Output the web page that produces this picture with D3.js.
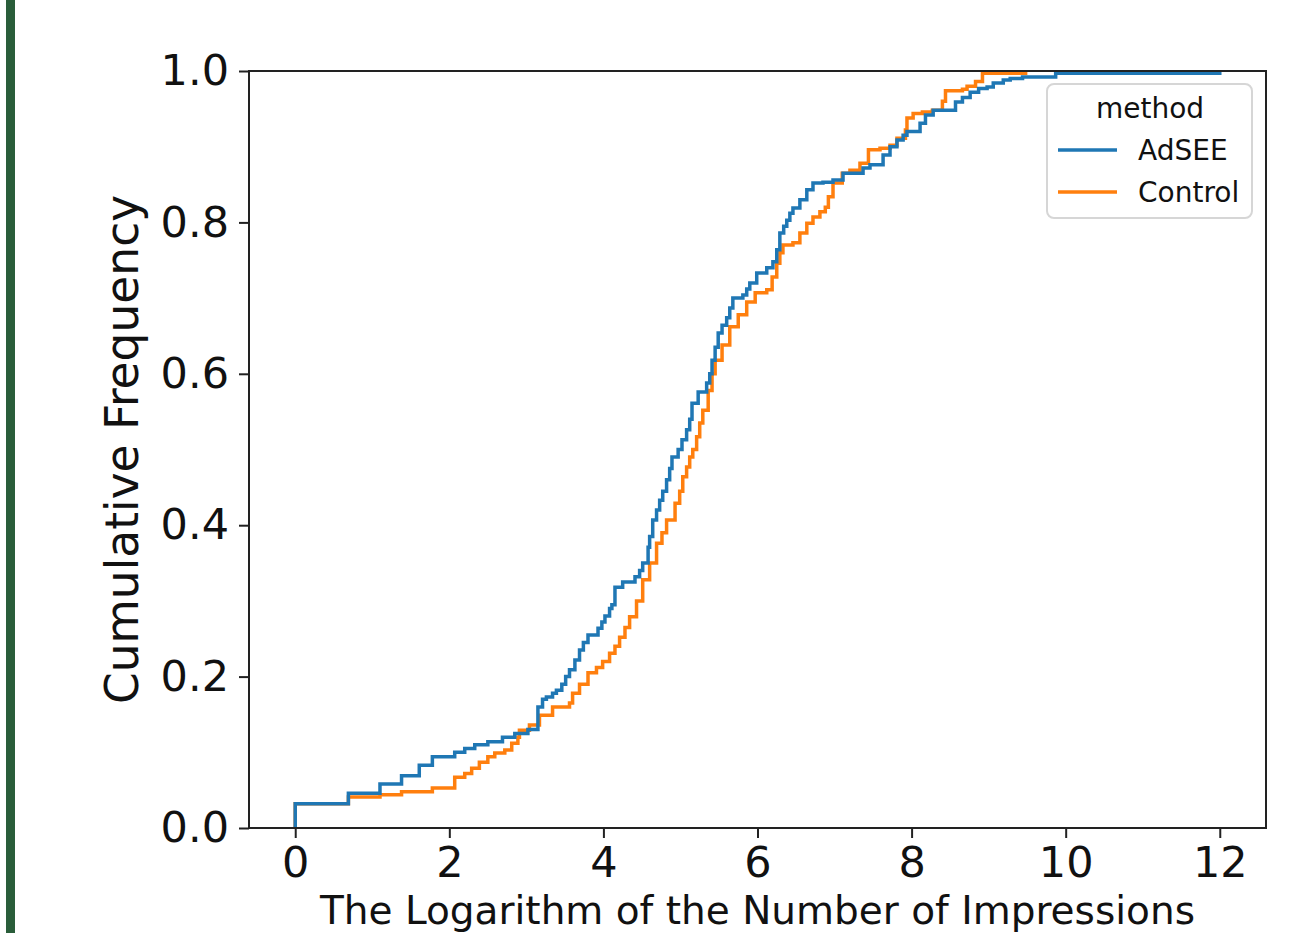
<!DOCTYPE html>
<html>
<head>
<meta charset="utf-8">
<script src="https://cdn.jsdelivr.net/npm/d3@7"></script>
<style>
  html, body { margin: 0; padding: 0; background: #fff; }
  svg { display: block; }
  text { font-family: "DejaVu Sans", sans-serif; fill: #111; }
</style>
</head>
<body>
<svg id="chart" width="1291" height="933"></svg>
<script>
// ---- data ----
const seriesNames = ["AdSEE", "Control"];
const seriesColors = ["#1f77b4", "#ff7f0e"];

// ECDF step points: x = log(#impressions), y = cumulative frequency after the step
const adseeX = [0, 0, 0.69, 1.10, 1.38, 1.61, 1.78, 2.07, 2.20, 2.33, 2.50, 2.69, 2.85, 3.02,
  3.15, 3.21, 3.26, 3.34, 3.39, 3.46, 3.51, 3.56, 3.63, 3.69, 3.74, 3.80, 3.93, 3.98, 4.02,
  4.08, 4.11, 4.15, 4.25, 4.41, 4.47, 4.51, 4.58, 4.60, 4.64, 4.69, 4.73, 4.77, 4.82, 4.86,
  4.89, 4.97, 5.02, 5.08, 5.12, 5.15, 5.23, 5.34, 5.38, 5.41, 5.45, 5.49, 5.54, 5.60, 5.64,
  5.68, 5.81, 5.86, 5.90, 5.99, 6.12, 6.20, 6.25, 6.29, 6.34, 6.38, 6.42, 6.46, 6.55, 6.64,
  6.72, 6.85, 6.98, 7.11, 7.37, 7.46, 7.63, 7.72, 7.81, 7.89, 7.94, 8.11, 8.18, 8.28, 8.57,
  8.66, 8.76, 8.87, 8.98, 9.06, 9.19, 9.28, 9.44, 9.87, 12.0];
const adseeY = [0, 0.032, 0.046, 0.058, 0.069, 0.083, 0.094, 0.100, 0.105, 0.110, 0.114, 0.120, 0.125, 0.130,
  0.160, 0.170, 0.173, 0.178, 0.182, 0.190, 0.200, 0.209, 0.222, 0.235, 0.245, 0.255, 0.264, 0.272, 0.280,
  0.290, 0.295, 0.318, 0.325, 0.332, 0.340, 0.350, 0.371, 0.385, 0.407, 0.420, 0.433, 0.445, 0.460, 0.475,
  0.490, 0.500, 0.513, 0.526, 0.540, 0.561, 0.576, 0.588, 0.600, 0.618, 0.635, 0.654, 0.664, 0.674, 0.687,
  0.700, 0.704, 0.712, 0.720, 0.733, 0.740, 0.748, 0.764, 0.786, 0.795, 0.803, 0.812, 0.819, 0.830, 0.843,
  0.852, 0.853, 0.856, 0.865, 0.872, 0.876, 0.889, 0.900, 0.909, 0.915, 0.920, 0.931, 0.942, 0.948, 0.959,
  0.965, 0.972, 0.977, 0.979, 0.984, 0.988, 0.990, 0.992, 0.997, 1.0];

const controlX = [0, 0, 0.69, 1.10, 1.38, 1.78, 2.07, 2.20, 2.29, 2.39, 2.50, 2.59, 2.72, 2.81, 2.89,
  2.91, 3.04, 3.17, 3.34, 3.56, 3.60, 3.69, 3.80, 3.91, 3.99, 4.08, 4.15, 4.21, 4.28, 4.34, 4.43,
  4.51, 4.60, 4.69, 4.76, 4.82, 4.93, 4.99, 5.03, 5.08, 5.12, 5.16, 5.21, 5.25, 5.29, 5.36, 5.41,
  5.45, 5.54, 5.64, 5.75, 5.86, 5.97, 6.12, 6.19, 6.25, 6.29, 6.33, 6.46, 6.55, 6.64, 6.72, 6.81,
  6.88, 6.92, 6.98, 7.10, 7.20, 7.33, 7.44, 7.59, 7.72, 7.81, 7.92, 7.94, 8.02, 8.14, 8.27, 8.40,
  8.44, 8.66, 8.72, 8.83, 8.92, 9.48];
const controlY = [0, 0.032, 0.041, 0.044, 0.048, 0.053, 0.067, 0.072, 0.079, 0.087, 0.094, 0.099, 0.103, 0.112, 0.120,
  0.129, 0.136, 0.149, 0.160, 0.165, 0.178, 0.190, 0.205, 0.212, 0.220, 0.231, 0.240, 0.252, 0.265, 0.279, 0.300,
  0.328, 0.350, 0.376, 0.390, 0.407, 0.429, 0.445, 0.464, 0.477, 0.490, 0.500, 0.517, 0.535, 0.552, 0.578, 0.600,
  0.618, 0.638, 0.662, 0.678, 0.695, 0.707, 0.711, 0.728, 0.746, 0.760, 0.770, 0.773, 0.786, 0.799, 0.807, 0.814,
  0.820, 0.834, 0.852, 0.865, 0.869, 0.878, 0.896, 0.898, 0.902, 0.911, 0.922, 0.938, 0.944, 0.946, 0.948, 0.960,
  0.974, 0.976, 0.980, 0.986, 0.997, 1.0];

const xTicks = [0, 2, 4, 6, 8, 10, 12];
const yTicks = [0.0, 0.2, 0.4, 0.6, 0.8, 1.0];
const xLabel = "The Logarithm of the Number of Impressions";
const yLabel = "Cumulative Frequency";
const legendTitle = "method";

(function () {
// ---- layout ----
const svg = d3.select("#chart");
const pL = 249, pR = 1266, pT = 71, pB = 828;

// left decorative bar
svg.append("rect").attr("x", 6).attr("y", 0).attr("width", 9).attr("height", 933).attr("fill", "#2a5d3a");

const x = d3.scaleLinear().domain([-0.6, 12.6]).range([pL, pR]);
const y = d3.scaleLinear().domain([0, 1]).range([pB, pT]);

// curves (Control first, AdSEE on top)
const line = d3.line().x(d => x(d[0])).y(d => y(d[1])).curve(d3.curveStepAfter);
const series = [
  { name: seriesNames[1], color: seriesColors[1], pts: d3.zip(controlX, controlY) },
  { name: seriesNames[0], color: seriesColors[0], pts: d3.zip(adseeX, adseeY) }
];
const plot = svg.append("g");
series.forEach(s => {
  plot.append("path").attr("d", line(s.pts)).attr("fill", "none")
    .attr("stroke", s.color).attr("stroke-width", 3.5).attr("stroke-linejoin", "miter");
});

// axes
const xAxis = svg.append("g").attr("transform", `translate(0,${pB})`)
  .call(d3.axisBottom(x).tickValues(xTicks).tickFormat(d3.format("d")).tickSize(10).tickPadding(8));
const yAxis = svg.append("g").attr("transform", `translate(${pL},0)`)
  .call(d3.axisLeft(y).tickValues(yTicks).tickFormat(d3.format(".1f")).tickSize(10).tickPadding(10));
[xAxis, yAxis].forEach(g => {
  g.select(".domain").remove();
  g.selectAll(".tick line").attr("stroke", "#222").attr("stroke-width", 2);
  g.selectAll(".tick text").style("font-size", "43px").attr("fill", "#111");
});

// spines
svg.append("rect").attr("x", pL).attr("y", pT).attr("width", pR - pL).attr("height", pB - pT)
  .attr("fill", "none").attr("stroke", "#222").attr("stroke-width", 2);

// axis labels
svg.append("text").attr("x", (pL + pR) / 2).attr("y", 923.5).attr("text-anchor", "middle")
  .style("font-size", "39px").text(xLabel);
svg.append("text").attr("transform", `translate(138,${(pT + pB) / 2}) rotate(-90)`)
  .attr("text-anchor", "middle").style("font-size", "45.5px").text(yLabel);

// legend
const lg = svg.append("g");
lg.append("rect").attr("x", 1047).attr("y", 84).attr("width", 205).attr("height", 134).attr("rx", 7)
  .attr("fill", "#fff").attr("fill-opacity", 0.8).attr("stroke", "#d6d6d6").attr("stroke-width", 2);
lg.append("text").attr("x", 1150).attr("y", 118).attr("text-anchor", "middle").style("font-size", "28px").text(legendTitle);
seriesNames.forEach((n, i) => {
  const yy = 150 + i * 42;
  lg.append("line").attr("x1", 1058).attr("x2", 1117).attr("y1", yy).attr("y2", yy)
    .attr("stroke", seriesColors[i]).attr("stroke-width", 3.5);
  lg.append("text").attr("x", 1138).attr("y", yy + 10).style("font-size", "28px").text(n);
});
})();
</script>
</body>
</html>
